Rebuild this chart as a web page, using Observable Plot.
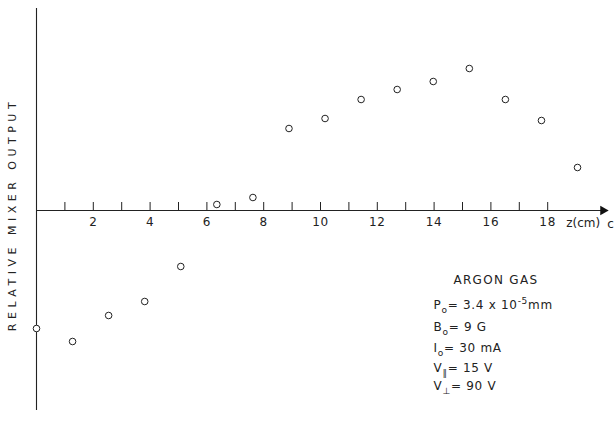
<!DOCTYPE html>
<html><head><meta charset="utf-8">
<script src="https://cdn.jsdelivr.net/npm/d3@7"></script>
<script src="https://cdn.jsdelivr.net/npm/@observablehq/plot@0.6"></script>
<style>
html,body{margin:0;padding:0;background:#fff;}
#chart svg{display:block;}
</style></head><body><div id="chart"></div>
<script>
// axial positions (cm) and relative mixer output (arbitrary units)
const zPositions = [0, 1.27, 2.54, 3.81, 5.08, 6.35, 7.62, 8.89, 10.16, 11.43, 12.7, 13.97, 15.24, 16.51, 17.78, 19.05];
const mixerOutput = [-11.8, -13.1, -10.5, -9.1, -5.6, 0.6, 1.3, 8.2, 9.2, 11.1, 12.1, 12.9, 14.2, 11.1, 9.0, 4.3];
const tickPositions = [1,2,3,4,5,6,7,8,9,10,11,12,13,14,15,16,17,18];
const tickLabels = [2,4,6,8,10,12,14,16,18];
const yAxisLabel = "RELATIVE MIXER OUTPUT";
const xAxisLabel = "z(cm)";
const annotationTitle = "ARGON GAS";
const annotationLines = ["P{_o}= 3.4 x 10{^-5}mm", "B{_o}= 9 G", "I{_o}= 30 mA", "V{_∥}= 15 V", "V{_⊥}= 90 V"];

const points = zPositions.map((z, i) => ({z, v: mixerOutput[i]}));
const lineY = [-9.5, -11.7, -13.8, -15.8, -17.6];
const ann = annotationLines.map((t, i) => ({t, y: lineY[i]}));

const ink = "#222";
const chart = Plot.plot({
  width: 614, height: 438,
  marginLeft: 36, marginRight: 10, marginTop: 8, marginBottom: 28,
  x: {domain: [0, 20], axis: null},
  y: {domain: [-20, 20.2], axis: null},
  style: {fontFamily: "DejaVu Sans, sans-serif", fontSize: "12px", color: ink, background: "#fff"},
  marks: [
    Plot.ruleX([0], {y1: -20, y2: 20.2, stroke: ink, strokeWidth: 1.1}),
    Plot.ruleY([0], {x1: 0, x2: 19.9, stroke: ink, strokeWidth: 1.1}),
    Plot.dot([0], {x: () => 19.95, y: () => 0, symbol: "triangle", rotate: 90, r: 3.6, fill: "#111", stroke: "none"}),
    Plot.ruleX(tickPositions, {x: d => d, y1: 0, y2: 0.8, stroke: ink, strokeWidth: 1}),
    Plot.text(tickLabels, {x: d => d, y: 0, dy: 12, text: d => String(d), fill: ink, fontSize: 12}),
    Plot.text([xAxisLabel], {x: () => 19.25, y: 0, dy: 13, text: d => d, fill: ink, fontSize: 12, className: "xlab"}),
    Plot.text(["c"], {x: () => 20.1, y: 0, dy: 14, text: d => d, fill: ink, fontSize: 12, textAnchor: "start"}),
    Plot.text([yAxisLabel], {x: 0, y: -0.4, dx: -24, rotate: -90, text: d => d, fill: ink, fontSize: 11, className: "ylab"}),
    Plot.dot(points, {x: "z", y: "v", r: 3.3, stroke: ink, strokeWidth: 1, fill: "white"}),
    Plot.text([annotationTitle], {x: 14.68, y: -7, text: d => d, textAnchor: "start", fill: ink, fontSize: 12, className: "anntitle"}),
    Plot.text(ann, {x: 13.98, y: "y", text: "t", textAnchor: "start", fill: ink, fontSize: 12})
  ]
});

// rich text: subscripts/superscripts
d3.select(chart).selectAll("text").each(function() {
  const s = this.textContent;
  if (!s.includes("{")) return;
  const parts = s.split(/(\{[_^][^}]*\})/).filter(p => p !== "");
  this.textContent = "";
  let shift = 0;
  for (const p of parts) {
    const m = p.match(/^\{([_^])([^}]*)\}$/);
    const ts = document.createElementNS("http://www.w3.org/2000/svg", "tspan");
    if (m) {
      const target = m[1] === "_" ? 4 : -5;
      ts.setAttribute("dy", target - shift);
      ts.setAttribute("font-size", "9");
      ts.textContent = m[2];
      shift = target;
    } else {
      ts.setAttribute("dy", -shift);
      ts.textContent = p;
      shift = 0;
    }
    this.appendChild(ts);
  }
});
d3.select(chart).selectAll("text").style("letter-spacing", "0.7px");
d3.select(chart).selectAll(".xlab text").style("letter-spacing", "0px");
d3.select(chart).selectAll(".anntitle text").style("letter-spacing", "1.3px");
d3.select(chart).selectAll(".ylab text").style("letter-spacing", "4.5px");
document.getElementById("chart").appendChild(chart);
</script></body></html>
